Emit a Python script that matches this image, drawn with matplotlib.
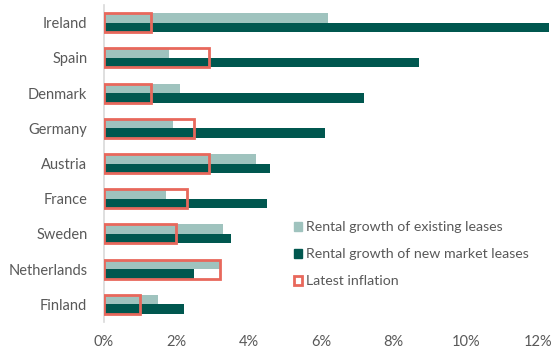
import matplotlib
matplotlib.use("Agg")
import matplotlib.pyplot as plt
import numpy as np
from matplotlib.patches import Patch

# data (in %)
countries = ["Ireland", "Spain", "Denmark", "Germany", "Austria",
             "France", "Sweden", "Netherlands", "Finland"]
existing = [6.2, 1.8, 2.1, 1.9, 4.2, 1.7, 3.3, 3.2, 1.5]
new_market = [12.3, 8.7, 7.2, 6.1, 4.6, 4.5, 3.5, 2.5, 2.2]
inflation = [1.3, 2.9, 1.3, 2.5, 2.9, 2.3, 2.0, 3.2, 1.0]
xticks = [0, 2, 4, 6, 8, 10, 12]

LIGHT = "#9fc3be"
DARK = "#00574f"
RED = "#e8685c"
GREY = "#595959"

plt.rcParams["font.family"] = ["Lato", "DejaVu Sans"]

fig = plt.figure(figsize=(5.51, 3.49), dpi=100)
ax = fig.add_axes([104 / 551, 27 / 349, 445 / 551, 317 / 349])

y = np.arange(len(countries))
h = 0.27
ax.barh(y - h / 2, existing, height=h, color=LIGHT, zorder=2)
ax.barh(y + h / 2, new_market, height=h, color=DARK, zorder=2)
ax.barh(y, inflation, height=2 * h, fill=False, edgecolor=RED,
        linewidth=2, zorder=3)

ax.set_ylim(len(countries) - 0.5, -0.5)
ax.set_xlim(0, 12.3)
ax.set_yticks(y)
ax.set_yticklabels(countries, fontsize=10.5, color=GREY)
ax.set_xticks(xticks)
ax.set_xticklabels([f"{t}%" for t in xticks], fontsize=10.5, color=GREY)
ax.tick_params(length=0, axis="y", pad=12)
ax.tick_params(length=0, axis="x", pad=9)
for s in ["top", "right", "bottom"]:
    ax.spines[s].set_visible(False)
ax.spines["left"].set_color("#d9d9d9")
ax.spines["left"].set_linewidth(1.2)

# legend sits inside the plot, lower right
handles = [Patch(facecolor=LIGHT, edgecolor=LIGHT),
           Patch(facecolor=DARK, edgecolor=DARK),
           Patch(facecolor="white", edgecolor=RED, linewidth=2)]
labels = ["Rental growth of existing leases",
          "Rental growth of new market leases",
          "Latest inflation"]
leg = ax.legend(handles, labels, loc="upper left",
                bbox_to_anchor=(0.41, 0.34), frameon=False, fontsize=10.2,
                handlelength=0.6, handleheight=0.6, handletextpad=0.3,
                labelspacing=1.05, borderpad=0)
for t in leg.get_texts():
    t.set_color(GREY)

fig.savefig("out.png", dpi=100)
